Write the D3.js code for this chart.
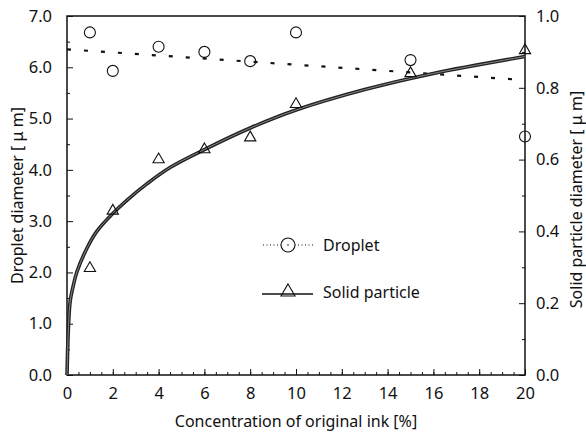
<!DOCTYPE html>
<html>
<head>
<meta charset="utf-8">
<script src="https://cdn.jsdelivr.net/npm/d3@7"></script>
<style>
  body { margin: 0; background: #fff; }
  text { font-family: "Noto Sans", "DejaVu Sans", sans-serif; fill: #111; }
</style>
</head>
<body>
<svg id="chart" width="586" height="432"></svg>
<script>
// concentration of original ink [%]
var dropletX = [1, 2, 4, 6, 8, 10, 15, 20];
var dropletD = [6.68, 5.93, 6.40, 6.30, 6.12, 6.68, 6.14, 4.65];   // left axis, um

var solidX = [1, 2, 4, 6, 8, 10, 15, 20];
var solidD = [0.30, 0.46, 0.603, 0.631, 0.664, 0.757, 0.843, 0.907]; // right axis, um

// fitted lines
var dropletFitX = [0, 20];
var dropletFitD = [6.35, 5.75];

var solidFitX = [0, 0.07, 0.14, 0.26, 0.43, 0.87, 1.3, 2, 2.6, 3.5, 4.5, 6, 8, 10, 13, 16, 20];
var solidFitD = [0, 0.143, 0.206, 0.245, 0.287, 0.353, 0.4, 0.45, 0.486, 0.533, 0.578, 0.628, 0.688, 0.738, 0.795, 0.840, 0.887];

var xTicks = [0, 2, 4, 6, 8, 10, 12, 14, 16, 18, 20];
var leftTicks = [0, 1, 2, 3, 4, 5, 6, 7];
var rightTicks = [0, 0.2, 0.4, 0.6, 0.8, 1.0];

var svg = d3.select("#chart");
var plotL = 67, plotR = 525, plotT = 16, plotB = 375;

var x = d3.scaleLinear().domain([0, 20]).range([plotL, plotR]);
var yL = d3.scaleLinear().domain([0, 7]).range([plotB, plotT]);
var yR = d3.scaleLinear().domain([0, 1]).range([plotB, plotT]);

// frame
svg.append("rect")
    .attr("x", plotL).attr("y", plotT)
    .attr("width", plotR - plotL).attr("height", plotB - plotT)
    .attr("fill", "none").attr("stroke", "#111").attr("stroke-width", 1.5);

// axes with inward ticks
svg.append("g").attr("transform", "translate(0," + plotB + ")")
    .call(d3.axisBottom(x).tickValues(xTicks).tickSize(-6).tickPadding(12).tickFormat(d3.format("d")));
svg.append("g").attr("transform", "translate(0," + plotB + ")")
    .call(d3.axisBottom(x).tickValues(d3.range(0, 20.01, 0.5)).tickSize(-3).tickFormat(""));

svg.append("g").attr("transform", "translate(" + plotL + ",0)")
    .call(d3.axisLeft(yL).tickValues(leftTicks).tickSize(-6).tickPadding(15).tickFormat(d3.format(".1f")));
svg.append("g").attr("transform", "translate(" + plotL + ",0)")
    .call(d3.axisLeft(yL).tickValues(d3.range(0.5, 7, 1)).tickSize(-3).tickFormat(""));

svg.append("g").attr("transform", "translate(" + plotR + ",0)")
    .call(d3.axisRight(yR).tickValues(rightTicks).tickSize(-6).tickPadding(11).tickFormat(d3.format(".1f")));
svg.append("g").attr("transform", "translate(" + plotR + ",0)")
    .call(d3.axisRight(yR).tickValues(d3.range(0.1, 1, 0.2)).tickSize(-3).tickFormat(""));

svg.selectAll(".domain").remove();
svg.selectAll(".tick line").attr("stroke", "#111");
svg.selectAll(".tick text").attr("font-size", 16.5).attr("fill", "#111");

// fitted curves
var dropletLine = d3.line()
    .x(function(d, i) { return x(dropletFitX[i]); })
    .y(function(d) { return yL(d); });
svg.append("path")
    .attr("d", dropletLine(dropletFitD))
    .attr("fill", "none").attr("stroke", "#111")
    .attr("stroke-width", 2.2).attr("stroke-dasharray", "4,13");

var solidLine = d3.line()
    .x(function(d, i) { return x(solidFitX[i]); })
    .y(function(d) { return yR(d); })
    .curve(d3.curveCatmullRom.alpha(0.5));
svg.append("path")
    .attr("d", solidLine(solidFitD))
    .attr("fill", "none").attr("stroke", "#222").attr("stroke-width", 3.6);
svg.append("path")
    .attr("d", solidLine(solidFitD))
    .attr("fill", "none").attr("stroke", "#888").attr("stroke-width", 1);

// markers
var tri = d3.symbol().type(d3.symbolTriangle).size(55);

svg.append("g").selectAll("circle")
    .data(dropletD)
    .enter().append("circle")
    .attr("cx", function(d, i) { return x(dropletX[i]); })
    .attr("cy", function(d) { return yL(d); })
    .attr("r", 5.5)
    .attr("fill", "none").attr("stroke", "#111").attr("stroke-width", 1.1);

svg.append("g").selectAll("path")
    .data(solidD)
    .enter().append("path")
    .attr("d", tri)
    .attr("transform", function(d, i) { return "translate(" + x(solidX[i]) + "," + (yR(d) + 1) + ")"; })
    .attr("fill", "none").attr("stroke", "#111").attr("stroke-width", 1.1);

// legend
var lg = svg.append("g");
lg.append("line").attr("x1", 263).attr("x2", 313).attr("y1", 245).attr("y2", 245)
    .attr("stroke", "#111").attr("stroke-width", 1).attr("stroke-dasharray", "1,2.5");
lg.append("circle").attr("cx", 288).attr("cy", 245).attr("r", 7)
    .attr("fill", "#fff").attr("stroke", "#111").attr("stroke-width", 1.1);
lg.append("circle").attr("cx", 288).attr("cy", 245).attr("r", 0.8).attr("fill", "#111");
lg.append("text").attr("x", 323).attr("y", 251).attr("font-size", 16).text("Droplet");

lg.append("line").attr("x1", 262).attr("x2", 313).attr("y1", 294).attr("y2", 294)
    .attr("stroke", "#111").attr("stroke-width", 1.3);
lg.append("path").attr("d", d3.symbol().type(d3.symbolTriangle).size(85))
    .attr("transform", "translate(288,292)")
    .attr("fill", "none").attr("stroke", "#111").attr("stroke-width", 1.1);
lg.append("text").attr("x", 323).attr("y", 298).attr("font-size", 16).text("Solid particle");

// axis titles
svg.append("text")
    .attr("x", (plotL + plotR) / 2).attr("y", 427)
    .attr("text-anchor", "middle").attr("font-size", 16)
    .text("Concentration of original ink [%]");

svg.append("text")
    .attr("transform", "translate(23," + ((plotT + plotB) / 2) + ") rotate(-90)")
    .attr("text-anchor", "middle").attr("font-size", 16)
    .text("Droplet diameter [ \u03bc m]");

svg.append("text")
    .attr("transform", "translate(582," + ((plotT + plotB) / 2 + 4) + ") rotate(-90)")
    .attr("text-anchor", "middle").attr("font-size", 16)
    .text("Solid particle diameter [ \u03bc m]");
</script>
</body>
</html>
